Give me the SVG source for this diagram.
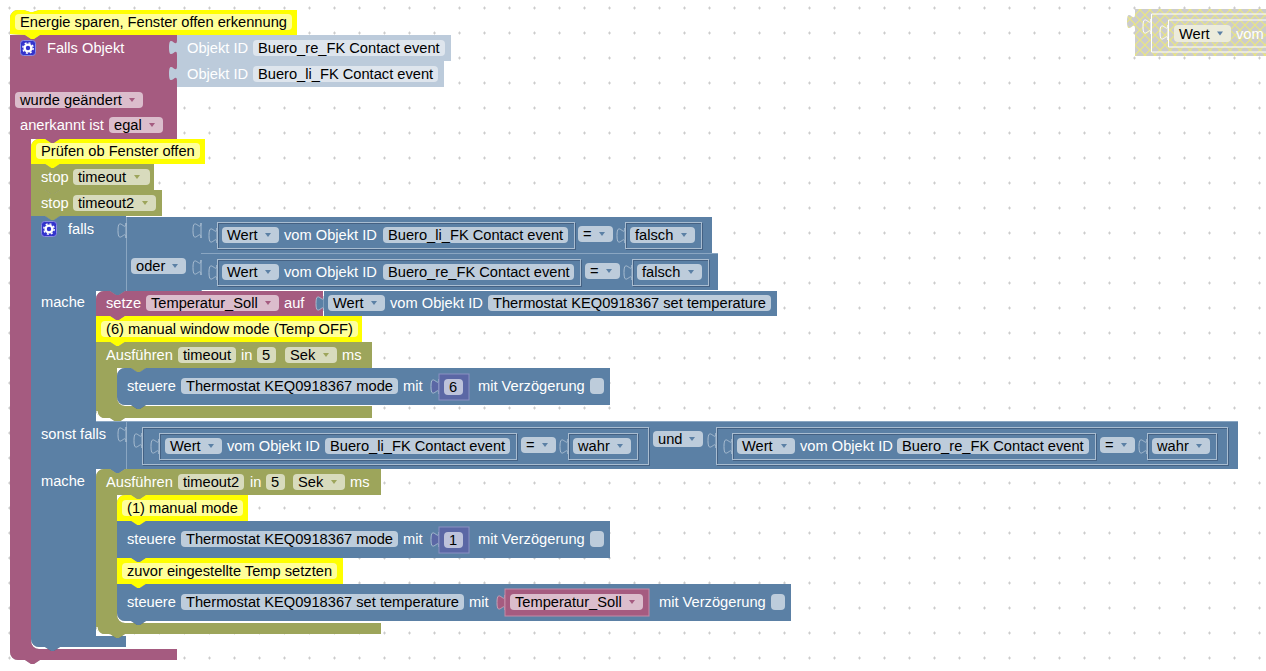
<svg xmlns="http://www.w3.org/2000/svg" width="1266" height="671" viewBox="0 0 1266 671">
<style>
text{font-family:"Liberation Sans",Arial,sans-serif;font-size:14.67px;fill:#000}
text.w{fill:#fff}
.b{filter:drop-shadow(.7px .7px 0 rgba(0,0,0,.35))}
.blue{fill:#5b80a5}.pur{fill:#a55b80}.oli{fill:#9da55b}.yel{fill:#ff0}.lt{fill:#bccbdb}.vio{fill:#5b67a5}
.fb{fill:#bdccdb}.fp{fill:#dbbdcc}.fo{fill:#d8dbbd}.fy{fill:#ffff99}.fl{fill:#dee5ed}.fv{fill:#bdc2db}
.fr{fill:none;stroke:#a9bdd1;stroke-width:1;filter:drop-shadow(1px 1px 0 rgba(40,60,90,.45))}
.t{fill:#5b80a5;stroke:#a9bdd1;stroke-width:1}
.ln{stroke:#8aa6c2;stroke-width:1;fill:none}
.ab{fill:#5b80a5}.ap{fill:#a55b80}.ao{fill:#9da55b}
.hl{fill:none;stroke:#fff;stroke-width:1.200}
.tv{fill:#5b67a5;stroke:#a9bdd1}.tp{fill:#a55b80;stroke:#c9a0b5}
</style>
<defs>
<pattern id="grid" width="25" height="25" patternUnits="userSpaceOnUse"><path d="M8,8h3M9.500,6.500v3" stroke="#ccc" stroke-width="1" fill="none"/></pattern>
<pattern id="hatch" width="10" height="10" patternUnits="userSpaceOnUse"><rect width="10" height="10" fill="#ccc"/><path d="M0,0L10,10M10,0L0,10" stroke="#ebe77f" stroke-width="1.200"/></pattern>
<path id="tab" d="M0,0c0,10 -8,-8 -8,7.500s8,-2.500 8,7.500z"/>
<path id="ar" d="M-3,-2h6l-3,4z"/>
<g id="gear"><rect x=".5" y=".5" width="15" height="15" rx="3" fill="#3333cc" stroke="#8a8ae0"/><circle cx="8" cy="8" r="3.400" fill="none" stroke="#fff" stroke-width="2.400"/><circle cx="8" cy="8" r="5.200" fill="none" stroke="#fff" stroke-width="1.400" stroke-dasharray="2 2.080"/></g>
</defs>
<rect width="1266" height="671" fill="#fff"/>
<rect width="1266" height="671" fill="url(#grid)"/>

<g id="disabled-wert">
<use href="#tab" x="1135" y="14" fill="url(#hatch)"/>
<rect x="1135" y="9" width="140" height="47" fill="url(#hatch)"/>
<path d="M1276,14H1151.500V52H1276M1276,20H1168.500V47H1276" fill="none" stroke="#fff"/>
<use href="#tab" x="1151" y="19" fill="none" stroke="#fff"/>
<use href="#tab" x="1168" y="25" fill="none" stroke="#fff"/>
<rect x="1174" y="25" width="57" height="17" rx="4" fill="#ececdc"/>
<text x="1179" y="39">Wert</text><use href="#ar" x="1220" y="33.500" class="ab"/>
<text class="w" x="1236" y="39">vom</text>
</g>

<g id="block-trigger">
<path class="pur b" d="M10,35H25l6,4 3,0 6,-4H177V139H60l-6,4 -3,0 -6,-4H31V641a8,8 0 0 0 8,8H177V660H40l-6,4 -3,0 -6,-4H18a8,8 0 0 1 -8,-8z"/>
<use href="#gear" x="20" y="40"/>
<text class="w" x="47" y="53">Falls Objekt</text>
<rect class="fp" x="15" y="92" width="128" height="16" rx="4"/><text x="20" y="105">wurde geändert</text><use href="#ar" class="ap" x="132" y="100"/>
<text class="w" x="20" y="130">anerkannt ist</text>
<rect class="fp" x="109" y="117" width="54" height="16" rx="4"/><text x="114" y="130">egal</text><use href="#ar" class="ap" x="152" y="125"/>
</g>

<g id="obj-re">
<use href="#tab" x="177" y="40" class="lt"/><rect class="lt" x="177" y="35" width="274" height="26"/>
<text class="w" x="187" y="53">Objekt ID</text>
<rect class="fl" x="253" y="40" width="192" height="16" rx="4"/><text x="258" y="53">Buero_re_FK Contact event</text>
</g>
<g id="obj-li">
<use href="#tab" x="177" y="66" class="lt"/><rect class="lt" x="177" y="61" width="267" height="26"/>
<text class="w" x="187" y="79">Objekt ID</text>
<rect class="fl" x="253" y="66" width="185" height="16" rx="4"/><text x="258" y="79">Buero_li_FK Contact event</text>
</g>

<g id="comment-title">
<path class="yel b" d="M10,34V18a8,8 0 0 1 8,-8H24l6,2 3,0 6,-2H297V35H40l-6,4 -3,0 -6,-4z"/>
<rect class="fy" x="15" y="14" width="277" height="16" rx="4"/><text x="20" y="27">Energie sparen, Fenster offen erkennung</text>
</g>

<g id="comment-check">
<path class="yel b" d="M31,164V147a8,8 0 0 1 8,-8H45l6,4 3,0 6,-4H205V164H60l-6,4 -3,0 -6,-4z"/>
<rect class="fy" x="36" y="143" width="164" height="16" rx="4"/><text x="41" y="156">Prüfen ob Fenster offen</text>
</g>
<g id="stop-timeout">
<path class="oli b" d="M31,164H45l6,4 3,0 6,-4H154V190H60l-6,4 -3,0 -6,-4H31z"/>
<text class="w" x="41" y="182">stop</text>
<rect class="fo" x="73" y="169" width="77" height="16" rx="4"/><text x="78" y="182">timeout</text><use href="#ar" class="ao" x="137" y="177"/>
</g>
<g id="stop-timeout2">
<path class="oli b" d="M31,190H45l6,4 3,0 6,-4H162V216H60l-6,4 -3,0 -6,-4H31z"/>
<text class="w" x="41" y="208">stop</text>
<rect class="fo" x="73" y="195" width="83" height="16" rx="4"/><text x="78" y="208">timeout2</text><use href="#ar" class="ao" x="145" y="203"/>
</g>

<g id="block-if">
<path class="blue b" d="M31,216H45l6,4 3,0 6,-4H126V291H125l-6,4 -3,0 -6,-4H96V421H126V469H125l-6,4 -3,0 -6,-4H96V636H126V647H60l-6,4 -3,0 -6,-4H39a8,8 0 0 1 -8,-8z"/>
<use href="#gear" x="41" y="221"/>
<text class="w" x="68" y="234">falls</text>
<text class="w" x="41" y="307">mache</text>
<text class="w" x="41" y="439">sonst falls</text>
<text class="w" x="41" y="486">mache</text>
</g>

<g id="or-block">
<rect class="blue" x="126" y="217" width="75" height="74"/>
<path class="ln" d="M126.500,217V291M201.500,217V291"/>
<use href="#tab" x="126" y="223" class="t"/>
<rect class="fb" x="131" y="258" width="55" height="16" rx="4"/><text x="136" y="271">oder</text><use href="#ar" class="ab" x="175" y="266"/>
</g>

<g id="cond-1">
<rect class="blue b" x="201" y="217" width="511" height="36"/>
<use href="#tab" x="201" y="223" class="t"/>
<rect class="fr" x="217.500" y="222.500" width="357" height="26"/>
<use href="#tab" x="217" y="228" class="t"/>
<rect class="fb" x="222" y="227" width="57" height="16" rx="4"/><text x="227" y="240">Wert</text><use href="#ar" class="ab" x="268" y="235"/>
<text class="w" x="284" y="240">vom Objekt ID</text>
<rect class="fb" x="383" y="227" width="185" height="16" rx="4"/><text x="388" y="240">Buero_li_FK Contact event</text>
<rect class="fb" x="578" y="226" width="35" height="16" rx="4"/><text x="583" y="239">=</text><use href="#ar" class="ab" x="602" y="234"/>
<rect class="fr" x="625.500" y="222.500" width="76" height="26"/>
<use href="#tab" x="625" y="228" class="t"/>
<rect class="fb" x="630" y="227" width="65" height="16" rx="4"/><text x="635" y="240">falsch</text><use href="#ar" class="ab" x="684" y="235"/>
</g>

<g id="cond-2">
<rect class="blue b" x="201" y="254" width="517" height="36"/>
<path class="ln" d="M201,253.500H718"/>
<use href="#tab" x="201" y="260" class="t"/>
<rect class="fr" x="217.500" y="259.500" width="363" height="26"/>
<use href="#tab" x="217" y="265" class="t"/>
<rect class="fb" x="222" y="264" width="57" height="16" rx="4"/><text x="227" y="277">Wert</text><use href="#ar" class="ab" x="268" y="272"/>
<text class="w" x="284" y="277">vom Objekt ID</text>
<rect class="fb" x="383" y="264" width="191" height="16" rx="4"/><text x="388" y="277">Buero_re_FK Contact event</text>
<rect class="fb" x="585" y="263" width="35" height="16" rx="4"/><text x="590" y="276">=</text><use href="#ar" class="ab" x="609" y="271"/>
<rect class="fr" x="632.500" y="259.500" width="76" height="26"/>
<use href="#tab" x="632" y="265" class="t"/>
<rect class="fb" x="637" y="264" width="65" height="16" rx="4"/><text x="642" y="277">falsch</text><use href="#ar" class="ab" x="691" y="272"/>
</g>

<g id="set-temp">
<path class="pur b" d="M96,299a8,8 0 0 1 8,-8H110l6,4 3,0 6,-4H323V316H125l-6,4 -3,0 -6,-4H96z"/>
<text class="w" x="106" y="308">setze</text>
<rect class="fp" x="146" y="295" width="133" height="16" rx="4"/><text x="151" y="308">Temperatur_Soll</text><use href="#ar" class="ap" x="268" y="303"/>
<text class="w" x="284" y="308">auf</text>
</g>
<g id="set-temp-value">
<use href="#tab" x="324" y="296" class="tv" style="fill:#5b80a5"/>
<rect class="blue b" x="324" y="291" width="453" height="25"/>
<rect class="fb" x="328" y="295" width="57" height="16" rx="4"/><text x="333" y="308">Wert</text><use href="#ar" class="ab" x="374" y="303"/>
<text class="w" x="390" y="308">vom Objekt ID</text>
<rect class="fb" x="488" y="295" width="283" height="16" rx="4"/><text x="493" y="308">Thermostat KEQ0918367 set temperature</text>
</g>

<g id="comment-6">
<path class="yel b" d="M96,316H110l6,4 3,0 6,-4H362V342H125l-6,4 -3,0 -6,-4H96z"/>
<rect class="fy" x="101" y="321" width="257" height="16" rx="4"/><text x="106" y="334">(6) manual window mode (Temp OFF)</text>
</g>

<g id="run-timeout">
<path class="oli b" d="M96,342H110l6,4 3,0 6,-4H372V368H146l-6,4 -3,0 -6,-4H117V398a8,8 0 0 0 8,8H372V418H125l-6,4 -3,0 -6,-4H104a8,8 0 0 1 -8,-8z"/>
<path class="hl" d="M97,411a8,8 0 0 0 8,8"/>
<text class="w" x="106" y="360">Ausführen</text>
<rect class="fo" x="178" y="347" width="58" height="16" rx="4"/><text x="183" y="360">timeout</text>
<text class="w" x="241" y="360">in</text>
<rect class="fo" x="257" y="347" width="19" height="16" rx="4"/><text x="262" y="360">5</text>
<rect class="fo" x="285" y="347" width="52" height="16" rx="4"/><text x="290" y="360">Sek</text><use href="#ar" class="ao" x="326" y="355"/>
<text class="w" x="342" y="360">ms</text>
</g>

<g id="ctrl-mode-6">
<path class="blue b" d="M117,376a8,8 0 0 1 8,-8H131l6,4 3,0 6,-4H610V405H146l-6,4 -3,0 -6,-4H125a8,8 0 0 1 -8,-8z"/>
<text class="w" x="127" y="391">steuere</text>
<rect class="fb" x="181" y="378" width="217" height="16" rx="4"/><text x="186" y="391">Thermostat KEQ0918367 mode</text>
<text class="w" x="403" y="391">mit</text>
<use href="#tab" x="439" y="379" class="tv"/>
<rect class="vio" x="439" y="374" width="30" height="26" stroke="#8a90c2"/>
<rect class="fv" x="444" y="379" width="19" height="16" rx="4"/><text x="449" y="392">6</text>
<text class="w" x="478" y="391">mit Verzögerung</text>
<rect class="fb" x="590" y="378" width="14" height="16" rx="4"/>
</g>

<g id="cond-elseif">
<rect class="blue b" x="126" y="421" width="1112" height="48"/>
<path class="ln" d="M96,421.500H1238M126.500,421V469"/>
<use href="#tab" x="126" y="427" class="t"/>
<rect class="fr" x="142.500" y="427.500" width="506" height="37"/>
<use href="#tab" x="142" y="433" class="t"/>
<rect class="fr" x="159.500" y="433.500" width="357" height="26"/>
<use href="#tab" x="159" y="439" class="t"/>
<rect class="fb" x="165" y="438" width="57" height="16" rx="4"/><text x="170" y="451">Wert</text><use href="#ar" class="ab" x="211" y="446"/>
<text class="w" x="227" y="451">vom Objekt ID</text>
<rect class="fb" x="325" y="438" width="185" height="16" rx="4"/><text x="330" y="451">Buero_li_FK Contact event</text>
<rect class="fb" x="521" y="437" width="35" height="16" rx="4"/><text x="526" y="450">=</text><use href="#ar" class="ab" x="545" y="445"/>
<rect class="fr" x="568.500" y="433.500" width="69" height="26"/>
<use href="#tab" x="568" y="439" class="t"/>
<rect class="fb" x="573" y="438" width="58" height="16" rx="4"/><text x="578" y="451">wahr</text><use href="#ar" class="ab" x="620" y="446"/>
<rect class="fb" x="653" y="431" width="50" height="16" rx="4"/><text x="658" y="444">und</text><use href="#ar" class="ab" x="692" y="439"/>
<rect class="fr" x="716.500" y="427.500" width="511" height="37"/>
<use href="#tab" x="716" y="433" class="t"/>
<rect class="fr" x="732.500" y="433.500" width="363" height="26"/>
<use href="#tab" x="732" y="439" class="t"/>
<rect class="fb" x="737" y="438" width="58" height="16" rx="4"/><text x="742" y="451">Wert</text><use href="#ar" class="ab" x="784" y="446"/>
<text class="w" x="800" y="451">vom Objekt ID</text>
<rect class="fb" x="897" y="438" width="192" height="16" rx="4"/><text x="902" y="451">Buero_re_FK Contact event</text>
<rect class="fb" x="1100" y="437" width="35" height="16" rx="4"/><text x="1105" y="450">=</text><use href="#ar" class="ab" x="1124" y="445"/>
<rect class="fr" x="1147.500" y="433.500" width="69" height="26"/>
<use href="#tab" x="1147" y="439" class="t"/>
<rect class="fb" x="1152" y="438" width="58" height="16" rx="4"/><text x="1157" y="451">wahr</text><use href="#ar" class="ab" x="1199" y="446"/>
</g>

<g id="run-timeout2">
<path class="oli b" d="M96,477a8,8 0 0 1 8,-8H110l6,4 3,0 6,-4H381V495H146l-6,4 -3,0 -6,-4H117V615a8,8 0 0 0 8,8H381V634H125l-6,4 -3,0 -6,-4H104a8,8 0 0 1 -8,-8z"/>
<path class="hl" d="M97,627a8,8 0 0 0 8,8"/>
<text class="w" x="106" y="487">Ausführen</text>
<rect class="fo" x="178" y="474" width="66" height="16" rx="4"/><text x="183" y="487">timeout2</text>
<text class="w" x="250" y="487">in</text>
<rect class="fo" x="266" y="474" width="19" height="16" rx="4"/><text x="271" y="487">5</text>
<rect class="fo" x="293" y="474" width="52" height="16" rx="4"/><text x="298" y="487">Sek</text><use href="#ar" class="ao" x="334" y="482"/>
<text class="w" x="350" y="487">ms</text>
</g>

<g id="comment-1">
<path class="yel b" d="M117,503a8,8 0 0 1 8,-8H131l6,4 3,0 6,-4H248V521H146l-6,4 -3,0 -6,-4H117z"/>
<rect class="fy" x="122" y="500" width="121" height="16" rx="4"/><text x="127" y="513">(1) manual mode</text>
</g>
<g id="ctrl-mode-1">
<path class="blue b" d="M117,521H131l6,4 3,0 6,-4H610V558H146l-6,4 -3,0 -6,-4H117z"/>
<text class="w" x="127" y="544">steuere</text>
<rect class="fb" x="181" y="531" width="217" height="16" rx="4"/><text x="186" y="544">Thermostat KEQ0918367 mode</text>
<text class="w" x="403" y="544">mit</text>
<use href="#tab" x="439" y="532" class="tv"/>
<rect class="vio" x="439" y="527" width="30" height="26" stroke="#8a90c2"/>
<rect class="fv" x="444" y="532" width="19" height="16" rx="4"/><text x="449" y="545">1</text>
<text class="w" x="478" y="544">mit Verzögerung</text>
<rect class="fb" x="590" y="531" width="14" height="16" rx="4"/>
</g>
<g id="comment-temp">
<path class="yel b" d="M117,558H131l6,4 3,0 6,-4H343V584H146l-6,4 -3,0 -6,-4H117z"/>
<rect class="fy" x="122" y="563" width="215" height="16" rx="4"/><text x="127" y="576">zuvor eingestellte Temp setzten</text>
</g>
<g id="ctrl-temp">
<path class="blue b" d="M117,584H131l6,4 3,0 6,-4H791V621H146l-6,4 -3,0 -6,-4H125a8,8 0 0 1 -8,-8z"/>
<text class="w" x="127" y="607">steuere</text>
<rect class="fb" x="181" y="594" width="283" height="16" rx="4"/><text x="186" y="607">Thermostat KEQ0918367 set temperature</text>
<text class="w" x="469" y="607">mit</text>
<use href="#tab" x="505" y="595" class="tp"/>
<rect class="pur" x="505" y="589" width="144" height="27" stroke="#c58aa6"/>
<rect class="fp" x="510" y="594" width="133" height="16" rx="4"/><text x="515" y="607">Temperatur_Soll</text><use href="#ar" class="ap" x="632" y="602"/>
<text class="w" x="659" y="607">mit Verzögerung</text>
<rect class="fb" x="771" y="594" width="14" height="16" rx="4"/>
</g>
</svg>
